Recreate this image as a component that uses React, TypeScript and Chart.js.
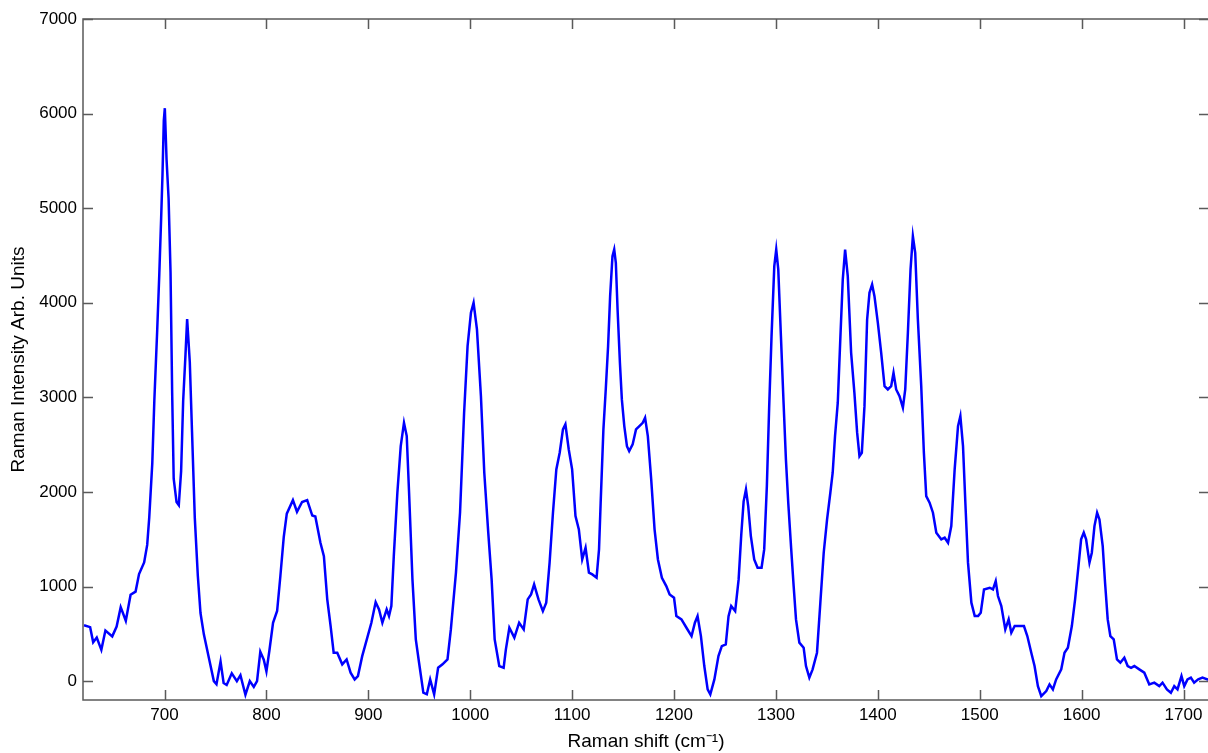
import React, { useEffect, useRef } from "react";
import { Chart, registerables } from "chart.js";

Chart.register(...registerables);

// Raman shift (cm-1) sample positions
const ramanShift: number[] = [
  621, 627, 630, 633.5, 638, 642, 648.7, 653, 657, 662, 666.7, 671.6, 675, 680, 683, 685, 688, 690, 692.8, 694.8,
  696.7, 698, 699.3, 700.3, 702, 704, 705.9, 707.5, 709, 711.8, 714, 716.3, 718.3, 720.6, 722.2, 724.8, 727, 729.7,
  732.7, 735.3, 738.6, 743.5, 748.4, 751, 755, 758, 761, 766, 771, 774.5, 779.4, 783.7, 787.6, 790.8, 794, 797.4,
  800, 803, 806.5, 810.5, 813.7, 817, 820, 826, 830, 835, 840,
  845, 848, 853, 856.4, 859.7, 863, 866, 869.5, 874.4, 878.7, 882.6, 886.6, 889.8, 894, 899, 903, 907.2, 910.5,
  913.8, 918, 920.3, 922.6, 925, 928.5, 931.8, 935, 937.7, 940, 943.3, 946.6, 949.8, 954, 957.4, 960.7, 964.6,
  968.5, 972.8, 977.7, 981, 986, 990, 994, 997.4, 1000.7, 1003.3, 1006.6, 1010.5, 1013.8, 1017.7, 1021, 1024,
  1028.5, 1032.8, 1035, 1038.4, 1043.3, 1048, 1052.5, 1056.4, 1059.7,
  1062.7, 1067, 1071.3, 1074.6, 1077.9, 1081.2, 1084.5, 1087.8, 1091, 1093.4, 1096.7, 1100, 1103.3, 1106.6,
  1109.9, 1113.2, 1116.5, 1119.8, 1124, 1126.4, 1128, 1130.7, 1133, 1135.3, 1137.3, 1139.6, 1141.3, 1142.9,
  1144.6, 1146.9, 1148.8, 1151.2, 1153.8, 1156, 1159.4, 1162.7, 1166, 1169.3, 1171.6, 1174.3, 1177.6, 1180.9,
  1184.2, 1188.1, 1192.4, 1195.7, 1200, 1202.3, 1207.3, 1212.2, 1217.2, 1220.5, 1223.1, 1226.4, 1229.7, 1233,
  1235.6, 1239.6, 1243.6, 1246.9, 1250.8, 1253.5, 1256.1, 1260, 1263.4,
  1266, 1268.3, 1270.6, 1272.8, 1275.4, 1278.7, 1282, 1285.9, 1288.5, 1291.1, 1293.4, 1295.7, 1298.4, 1300.3,
  1302.3, 1304.9, 1307.5, 1309.8, 1312.1, 1314.8, 1317.4, 1319.7, 1323, 1327.2, 1329.5, 1332.8, 1336, 1340.3,
  1343.6, 1346.9, 1350.2, 1353.4, 1355.7, 1358, 1360.7, 1363.3, 1365.6, 1367.9, 1370.5, 1373.8, 1377, 1379.7,
  1382, 1384.3, 1386.9, 1389.5, 1391.8, 1394.4, 1396.7, 1400, 1403.3, 1406.6, 1409.8, 1413.1, 1415.4, 1418,
  1421.3, 1424.6, 1426.9, 1429.5, 1432.1, 1434.4, 1436.7, 1439.3, 1442.6, 1445.2, 1447.5, 1450.8, 1454.1,
  1457.4, 1462.3, 1465.6, 1468.9, 1472.1, 1475.4, 1478.7, 1481, 1483.6, 1485.9, 1488.5, 1491.8, 1495.1, 1498.4,
  1501, 1504.2, 1509.8, 1513, 1515.7, 1517.9, 1521.2, 1525.1, 1528.4, 1531, 1534.3, 1538.2, 1543.4, 1546.7,
  1550.6, 1553.8, 1557.1, 1560.4, 1565.3, 1568.5, 1571.8, 1575, 1580, 1583.2, 1586.5, 1590.4, 1593.6, 1596.9,
  1599.5, 1602.1, 1604.4, 1607.7, 1610, 1612.6, 1615.2, 1617.5, 1620.7, 1623, 1625.6, 1628.2, 1631.5, 1634.7,
  1638, 1641.9, 1645.2, 1648.5, 1651.7, 1656.6, 1661.5, 1666.4, 1671.3, 1676.2, 1679.4, 1683.7, 1687.6, 1690.9,
  1694.1, 1698, 1700.7, 1703.9, 1707.2, 1710.4, 1714.4, 1718.6, 1723.5, 1725,
];

// Raman intensity (arb. units) at each position
const intensity: number[] = [
  590, 570, 410, 460, 330, 535, 473, 576, 782, 638, 913, 946, 1131, 1255, 1440, 1728, 2304, 2963, 3704, 4280,
  4897, 5350, 5926, 6057, 5514, 5103, 4321, 3045, 2140, 1893, 1860, 2222, 2963, 3457, 3827, 3374, 2634, 1728,
  1111, 720, 494, 247, 0, -33, 206, -20, -41, 82, 0, 62, -144, 0, -62, 0, 309, 226,
  103, 329, 617, 741, 1111, 1523, 1770, 1913, 1790, 1893, 1913,
  1750, 1740, 1463, 1321, 864, 582, 300, 300, 177, 229, 89, 18, 53, 264, 459, 617, 835, 758,
  617, 758, 687, 793, 1321, 1991, 2484, 2731, 2590, 1991, 1075, 441, 194, -123, -140, 18, -140,
  141, 177, 229, 546, 1146, 1780, 2837, 3541, 3894, 4000, 3718, 3013, 2203, 1569, 1075, 441,
  159, 141, 335, 564, 459, 617, 546, 864, 916,
  1022, 864, 740, 829, 1252, 1780, 2238, 2414, 2661, 2714, 2449, 2238, 1744, 1604,
  1286, 1410, 1146, 1128, 1093, 1392, 1886, 2661, 3083, 3541, 4070, 4493, 4563, 4423,
  3929, 3366, 2978, 2696, 2484, 2431, 2502, 2661, 2696, 2731, 2784, 2590, 2132, 1604,
  1286, 1093, 1004, 916, 881, 687, 652, 564, 476, 617, 687, 476, 159, -88,
  -140, 18, 264, 370, 388, 687, 793, 740, 1075,
  1550, 1900, 2026, 1850, 1533, 1286, 1199, 1199, 1392, 2061, 2907, 3647, 4387, 4563,
  4352, 3647, 2943, 2344, 1886, 1427, 1004, 652, 406, 353, 159, 36, 124, 300,
  829, 1357, 1709, 1991, 2203, 2590, 2943, 3647, 4246, 4563, 4281, 3471, 3049, 2626,
  2378, 2414, 2907, 3823, 4105, 4193, 4070, 3789, 3471, 3118, 3083, 3118, 3260, 3083,
  3013, 2890, 3083, 3683, 4352, 4704, 4528, 3823, 3118, 2414, 1956, 1886, 1780,
  1569, 1498, 1516, 1463, 1639, 2238, 2696, 2801, 2484, 1886, 1252, 829, 687, 687,
  723, 969, 987, 969, 1057, 899, 793, 546, 652, 511, 582, 582, 582, 476,
  300, 159, -53, -159, -106, -35, -88, 18, 124, 300, 353, 582, 864, 1216,
  1498, 1569, 1498, 1252, 1357, 1639, 1780, 1709, 1427, 1040, 652, 476, 441, 229,
  194, 247, 159, 141, 159, 124, 89, -35, -17, -53, -17, -88, -123, -53,
  -88, 53, -53, 18, 36, -17, 18, 36, 18, 20,
];

const xTicks: number[] = [700, 800, 900, 1000, 1100, 1200, 1300, 1400, 1500, 1600, 1700];
const yTicks: number[] = [0, 1000, 2000, 3000, 4000, 5000, 6000, 7000];

const FONT = "'Liberation Sans', Arial, Helvetica, sans-serif";

const framePlugin = {
  id: "matlabFrame",
  afterDraw(chart: any) {
    const { ctx, chartArea } = chart;
    const { left, right, top, bottom } = chartArea;
    const xs = chart.scales.x;
    const ys = chart.scales.y;
    const len = 10;
    ctx.save();
    ctx.strokeStyle = "#5a5a5a";
    ctx.lineWidth = 1.5;
    ctx.strokeRect(left, top, right - left, bottom - top);
    ctx.beginPath();
    xTicks.forEach((v) => {
      const px = Math.round(xs.getPixelForValue(v)) + 0.5;
      ctx.moveTo(px, bottom);
      ctx.lineTo(px, bottom - len);
      ctx.moveTo(px, top);
      ctx.lineTo(px, top + len);
    });
    yTicks.forEach((v) => {
      const py = Math.round(ys.getPixelForValue(v)) + 0.5;
      ctx.moveTo(left, py);
      ctx.lineTo(left + len, py);
      ctx.moveTo(right, py);
      ctx.lineTo(right - len, py);
    });
    ctx.stroke();
    ctx.restore();
  },
};

export default function App() {
  const canvasRef = useRef<HTMLCanvasElement | null>(null);

  useEffect(() => {
    const canvas = canvasRef.current;
    if (!canvas) return;
    const points = ramanShift.map((x, i) => ({ x, y: intensity[i] }));
    const chart = new Chart(canvas, {
      type: "line",
      data: {
        datasets: [
          {
            label: "Raman spectrum",
            data: points,
            borderColor: "#0000ff",
            borderWidth: 2.5,
            pointRadius: 0,
            tension: 0,
            fill: false,
          },
        ],
      },
      options: {
        animation: false,
        responsive: false,
        devicePixelRatio: 1,
        layout: { padding: { top: 19, right: 3, left: 0, bottom: 0 } },
        plugins: {
          legend: { display: false },
          tooltip: { enabled: false },
        },
        scales: {
          x: {
            type: "linear",
            min: 620,
            max: 1725,
            grid: { display: false, drawTicks: false },
            border: { display: false },
            afterBuildTicks: (scale: any) => {
              scale.ticks = xTicks.map((v) => ({ value: v }));
            },
            afterFit: (scale: any) => {
              scale.height = 53;
            },
            ticks: {
              padding: 5,
              color: "#000",
              font: { family: FONT, size: 17 },
              maxRotation: 0,
              autoSkip: false,
              callback: (v: any) => String(v),
            },
            title: {
              display: true,
              text: "Raman shift (cm⁻¹)",
              color: "#000",
              font: { family: FONT, size: 19 },
              padding: { top: 0, bottom: 0 },
            },
          },
          y: {
            type: "linear",
            min: -200,
            max: 7000,
            grid: { display: false, drawTicks: false },
            border: { display: false },
            afterBuildTicks: (scale: any) => {
              scale.ticks = yTicks.map((v) => ({ value: v }));
            },
            afterFit: (scale: any) => {
              scale.width = 83;
            },
            ticks: {
              padding: 6,
              color: "#000",
              font: { family: FONT, size: 17 },
              autoSkip: false,
              callback: (v: any) => String(v),
            },
            title: {
              display: true,
              text: "Raman Intensity Arb. Units",
              color: "#000",
              font: { family: FONT, size: 19 },
              padding: { top: 7, bottom: 0 },
            },
          },
        },
      },
      plugins: [framePlugin],
    });
    return () => chart.destroy();
  }, []);

  return (
    <div
      style={{
        position: "fixed",
        left: 0,
        top: 0,
        width: 1208,
        height: 753,
        overflow: "hidden",
        background: "#fff",
      }}
    >
      <canvas ref={canvasRef} width={1212} height={753} style={{ width: 1212, height: 753, display: "block" }} />
    </div>
  );
}
